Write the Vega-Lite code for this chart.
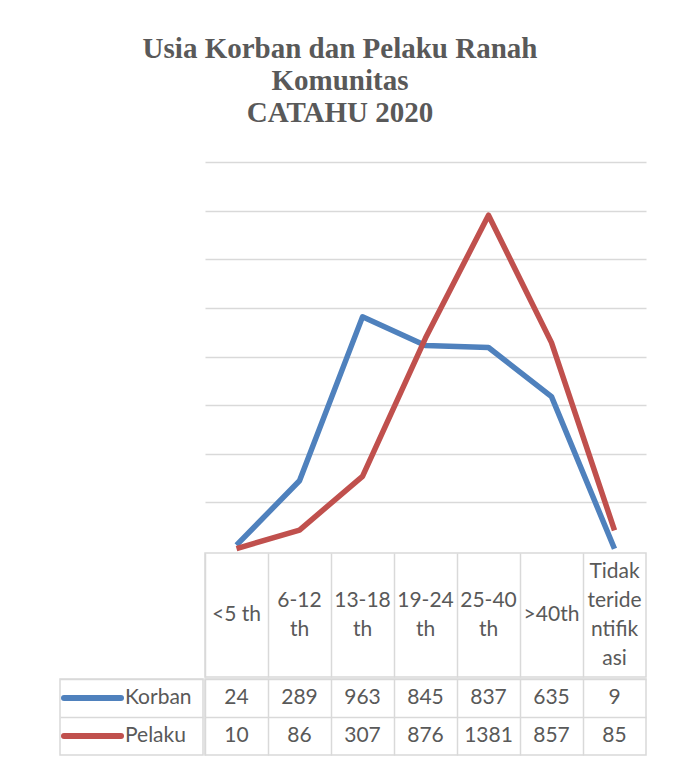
{
  "$schema": "https://vega.github.io/schema/vega-lite/v6.json",
  "background": "white",
  "padding": {"left": 51, "top": 35, "right": 20, "bottom": 5},
  "title": {
    "text": ["Usia Korban dan Pelaku Ranah", "Komunitas", "CATAHU 2020"],
    "font": "Liberation Serif",
    "fontSize": 29,
    "fontWeight": "bold",
    "color": "#595959",
    "lineHeight": 32,
    "anchor": "middle",
    "offset": 34,
    "dx": -9
  },
  "datasets": {
    "series": [
      {"age": "<5 th", "series": "Korban", "value": 24},
      {"age": "6-12 th", "series": "Korban", "value": 289},
      {"age": "13-18 th", "series": "Korban", "value": 963},
      {"age": "19-24 th", "series": "Korban", "value": 845},
      {"age": "25-40 th", "series": "Korban", "value": 837},
      {"age": ">40th", "series": "Korban", "value": 635},
      {"age": "Tidak teridentifikasi", "series": "Korban", "value": 9},
      {"age": "<5 th", "series": "Pelaku", "value": 10},
      {"age": "6-12 th", "series": "Pelaku", "value": 86},
      {"age": "13-18 th", "series": "Pelaku", "value": 307},
      {"age": "19-24 th", "series": "Pelaku", "value": 876},
      {"age": "25-40 th", "series": "Pelaku", "value": 1381},
      {"age": ">40th", "series": "Pelaku", "value": 857},
      {"age": "Tidak teridentifikasi", "series": "Pelaku", "value": 85}
    ],
    "ages": [
      {"age": "<5 th", "label": ["<5 th"]},
      {"age": "6-12 th", "label": ["6-12", "th"]},
      {"age": "13-18 th", "label": ["13-18", "th"]},
      {"age": "19-24 th", "label": ["19-24", "th"]},
      {"age": "25-40 th", "label": ["25-40", "th"]},
      {"age": ">40th", "label": [">40th"]},
      {"age": "Tidak teridentifikasi", "label": ["Tidak", "teride", "ntifik", "asi"]}
    ],
    "legend": [
      {"series": "Korban"},
      {"series": "Pelaku"}
    ]
  },
  "columns": 2,
  "spacing": 0,
  "concat": [
    {
      "data": {"name": "legend"},
      "width": 143,
      "height": 10,
      "view": {"stroke": null},
      "mark": {"type": "point", "opacity": 0},
      "encoding": {}
    },
    {
      "data": {"name": "series"},
      "width": 441,
      "height": 389,
      "view": {"stroke": null},
      "mark": {"type": "line", "strokeWidth": 5.5, "strokeJoin": "round"},
      "encoding": {
        "x": {
          "field": "age", "type": "nominal",
          "scale": {"type": "band", "domain": ["<5 th", "6-12 th", "13-18 th", "19-24 th", "25-40 th", ">40th", "Tidak teridentifikasi"], "paddingInner": 0, "paddingOuter": 0},
          "axis": null
        },
        "y": {
          "field": "value", "type": "quantitative",
          "scale": {"domain": [0, 1600], "nice": false},
          "axis": {"values": [200, 400, 600, 800, 1000, 1200, 1400, 1600], "labels": false, "ticks": false, "domain": false, "title": null, "grid": true}
        },
        "color": {
          "field": "series", "type": "nominal",
          "scale": {"domain": ["Korban", "Pelaku"], "range": ["#4f81bd", "#c0504d"]},
          "legend": null
        }
      }
    },
    {
      "data": {"name": "legend"},
      "width": 143,
      "height": 10,
      "view": {"stroke": null},
      "mark": {"type": "point", "opacity": 0},
      "encoding": {}
    },
    {
      "data": {"name": "ages"},
      "width": 441,
      "height": 124,
      "encoding": {
        "x": {
          "field": "age", "type": "nominal",
          "scale": {"type": "band", "domain": ["<5 th", "6-12 th", "13-18 th", "19-24 th", "25-40 th", ">40th", "Tidak teridentifikasi"], "paddingInner": 0, "paddingOuter": 0},
          "axis": {"bandPosition": 0, "grid": true, "labels": false, "ticks": false, "domain": false, "title": null}
        },
        "text": {"field": "label"}
      },
      "layer": [
        {
          "transform": [{"filter": "length(datum.label) == 1"}],
          "mark": {"type": "text", "font": "Lato", "fontSize": 21, "color": "#595959", "lineHeight": 29, "baseline": "middle", "align": "center"}
        },
        {
          "transform": [{"filter": "length(datum.label) == 2"}],
          "mark": {"type": "text", "font": "Lato", "fontSize": 21, "color": "#595959", "lineHeight": 29, "baseline": "middle", "align": "center", "dy": -14.5}
        },
        {
          "transform": [{"filter": "length(datum.label) == 4"}],
          "mark": {"type": "text", "font": "Lato", "fontSize": 21, "color": "#595959", "lineHeight": 29, "baseline": "middle", "align": "center", "dy": -43.5}
        }
      ]
    },
    {
      "data": {"name": "legend"},
      "width": 143,
      "height": 76,
      "layer": [
        {
          "mark": {"type": "point", "shape": "stroke", "size": 3249, "strokeWidth": 6, "strokeCap": "round", "filled": false, "opacity": 1},
          "encoding": {
            "x": {"datum": "sym", "type": "nominal", "scale": {"type": "band", "domain": ["sym", "lab"], "paddingInner": 0, "paddingOuter": 0.1, "align": 0}, "axis": null},
            "y": {
              "field": "series", "type": "nominal",
              "scale": {"type": "band", "domain": ["Korban", "Pelaku"], "paddingInner": 0, "paddingOuter": 0},
              "axis": {"bandPosition": 0, "grid": true, "labels": false, "ticks": false, "domain": false, "title": null}
            },
            "color": {
              "field": "series", "type": "nominal",
              "scale": {"domain": ["Korban", "Pelaku"], "range": ["#4f81bd", "#c0504d"]},
              "legend": null
            }
          }
        },
        {
          "mark": {"type": "text", "font": "Lato", "fontSize": 21, "color": "#595959", "baseline": "middle", "align": "left"},
          "encoding": {
            "x": {"datum": "lab", "type": "nominal", "bandPosition": 0},
            "y": {"field": "series", "type": "nominal"},
            "text": {"field": "series"}
          }
        }
      ]
    },
    {
      "data": {"name": "series"},
      "width": 441,
      "height": 76,
      "mark": {"type": "text", "font": "Lato", "fontSize": 21, "color": "#595959", "baseline": "middle", "align": "center"},
      "encoding": {
        "x": {
          "field": "age", "type": "nominal",
          "scale": {"type": "band", "domain": ["<5 th", "6-12 th", "13-18 th", "19-24 th", "25-40 th", ">40th", "Tidak teridentifikasi"], "paddingInner": 0, "paddingOuter": 0},
          "axis": {"bandPosition": 0, "grid": true, "labels": false, "ticks": false, "domain": false, "title": null}
        },
        "y": {
          "field": "series", "type": "nominal",
          "scale": {"type": "band", "domain": ["Korban", "Pelaku"], "paddingInner": 0, "paddingOuter": 0},
          "axis": {"bandPosition": 0, "grid": true, "labels": false, "ticks": false, "domain": false, "title": null}
        },
        "text": {"field": "value", "type": "nominal"}
      }
    }
  ],
  "config": {
    "view": {"stroke": "#d9d9d9", "strokeWidth": 1.5},
    "axis": {"minExtent": 0, "gridColor": "#d9d9d9", "gridWidth": 1.5}
  }
}
